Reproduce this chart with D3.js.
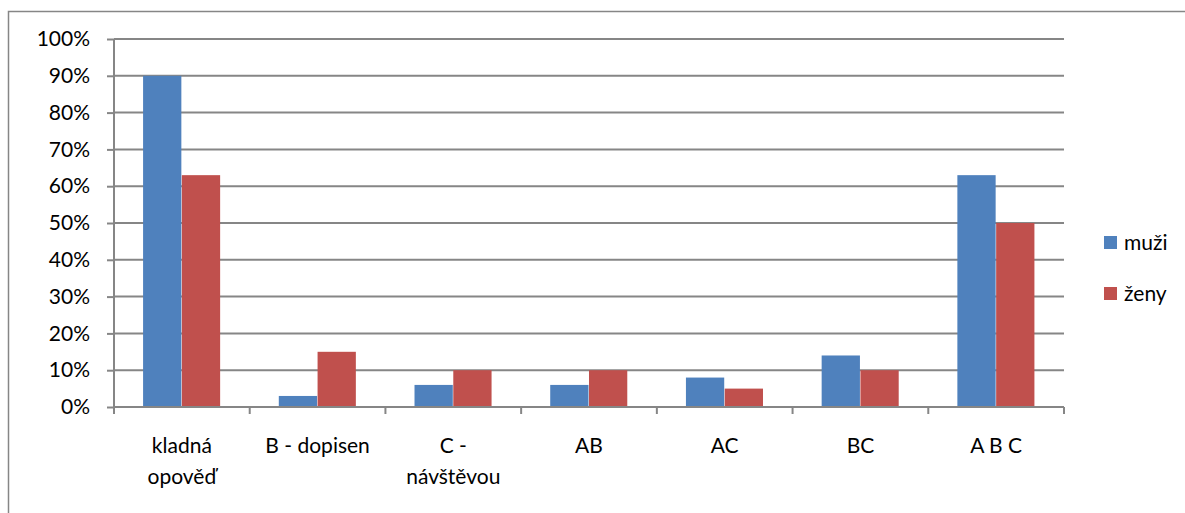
<!DOCTYPE html>
<html><head><meta charset="utf-8">
<script src="https://cdn.jsdelivr.net/npm/d3@7"></script>
<style>body{margin:0;background:#fff}svg{display:block}</style>
</head><body>
<svg id="c" width="1185" height="513"></svg>
<script>
const categories = [["kladná","opověď"],["B - dopisen"],["C -","návštěvou"],["AB"],["AC"],["BC"],["A B C"]];
const series = ["muži","ženy"];
const muzi = [0.90,0.03,0.06,0.06,0.08,0.14,0.63];
const zeny = [0.63,0.15,0.10,0.10,0.05,0.10,0.50];
const yTicks = [0,0.1,0.2,0.3,0.4,0.5,0.6,0.7,0.8,0.9,1.0];
const colors = ["#4F81BD","#C0504D"];

const svg = d3.select("#c");
const font = "Lato, 'Open Sans', sans-serif";
const fs = 21;
const grid = "#868686";
// outer frame
svg.append("rect").attr("x",8.5).attr("y",11.5).attr("width",1300).attr("height",600)
  .attr("fill","none").attr("stroke",grid).attr("stroke-width",1.5);

const L=114, R=1064, T=39, B=407;
const x = d3.scaleBand().domain(d3.range(categories.length)).range([L,R]);
const y = d3.scaleLinear().domain([0,1]).range([B,T]);
const inner = d3.scaleBand().domain(series).range([0, x.bandwidth()]).paddingOuter(0.75).paddingInner(0);

// gridlines
svg.append("g").selectAll("line").data(yTicks.filter(d=>d>0)).join("line")
  .attr("x1",L).attr("x2",R).attr("y1",d=>y(d)).attr("y2",d=>y(d))
  .attr("stroke",grid).attr("stroke-width",2);

// bars
const data = [muzi, zeny];
series.forEach((s,si)=>{
  svg.append("g").selectAll("rect").data(data[si]).join("rect")
    .attr("x",(d,i)=>x(i)+inner(s)).attr("width",inner.bandwidth()-0.5)
    .attr("y",d=>y(d)).attr("height",d=>B-y(d)).attr("fill",colors[si]);
});

// y axis
const ya = svg.append("g").attr("transform",`translate(${L},0)`)
  .call(d3.axisLeft(y).tickValues(yTicks).tickFormat(d3.format(".0%")).tickSize(7).tickPadding(17));
ya.select(".domain").attr("stroke",grid).attr("stroke-width",2).attr("d",`M0,${T}V${B}`);
ya.selectAll(".tick line").attr("stroke",grid).attr("stroke-width",2);
ya.selectAll("text").attr("font-family",font).attr("font-size",fs).attr("fill","#000");

// x axis
const xa = svg.append("g").attr("transform",`translate(0,${B})`);
xa.append("line").attr("x1",L).attr("x2",R).attr("stroke",grid).attr("stroke-width",2);
const bounds = d3.range(categories.length+1).map(i=> i<categories.length? x(i): R);
xa.selectAll("line.t").data(bounds).join("line").attr("class","t")
  .attr("x1",d=>d).attr("x2",d=>d).attr("y1",0).attr("y2",7).attr("stroke",grid).attr("stroke-width",2);
const lab = xa.selectAll("text").data(categories).join("text")
  .attr("text-anchor","middle").attr("font-family",font).attr("font-size",fs).attr("fill","#000")
  .attr("transform",(d,i)=>`translate(${x(i)+x.bandwidth()/2},46)`);
lab.selectAll("tspan").data(d=>d).join("tspan").attr("x",0).attr("dy",(d,i)=>i?31:0).text(d=>d);

// legend
const lg = svg.append("g").attr("transform","translate(1104,236)");
series.forEach((s,i)=>{
  lg.append("rect").attr("x",0).attr("y",i*51).attr("width",13).attr("height",13).attr("fill",colors[i]);
  lg.append("text").attr("x",20).attr("y",i*51+14).attr("font-family",font).attr("font-size",fs).text(s);
});
</script>
</body></html>
